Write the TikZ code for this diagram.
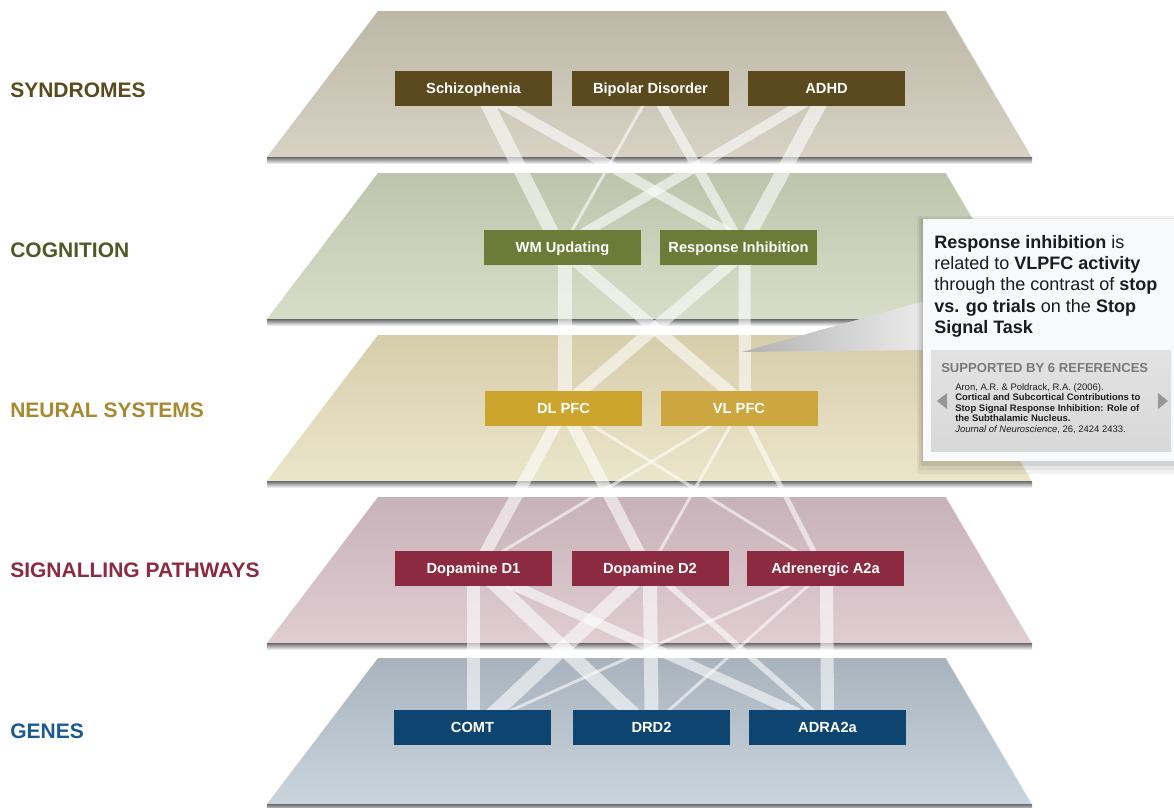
\documentclass[tikz,border=0pt]{standalone}
\usepackage{fontspec}
\setmainfont{Liberation Sans}
\usetikzlibrary{calc}
\pgfdeclarelayer{planes}
\pgfdeclarelayer{bands}
\pgfsetlayers{planes,bands,main}

\begin{document}
\begin{tikzpicture}[x=0.75pt,y=0.75pt,yscale=-1,xscale=1,
  slab edge/.style={draw=none,top color={rgb, 255:red, 105; green, 105; blue, 105 },bottom color=white},
  box/.style={minimum width=117.75pt,minimum height=26.25pt,inner sep=0pt,text height=7.2pt,text depth=0pt,text=white,font=\fontsize{11}{13}\selectfont\bfseries},
  layer label/.style={anchor=base west,inner sep=0pt,font=\fontsize{15.75}{18}\selectfont\bfseries},
  band/.style={draw=white,draw opacity=0.58,shorten >=-6pt,shorten <=-6pt}
]
\useasboundingbox (0,0) rectangle (1174,807);
\clip (0,0) rectangle (1174,807);

\begin{pgfonlayer}{planes}
%Shape: Trapezoid -- syndromes
\shade [top color={rgb, 255:red, 188; green, 183; blue, 166 },bottom color={rgb, 255:red, 215; green, 210; blue, 196 }] (378,11) -- (946,11) -- (1032,157) -- (267,157) -- cycle ;
\shade [slab edge] (267,157) rectangle (1032,164) ;
%Shape: Trapezoid -- cognition
\shade [top color={rgb, 255:red, 190; green, 196; blue, 172 },bottom color={rgb, 255:red, 215; green, 221; blue, 200 }] (378,173) -- (946,173) -- (1032,319) -- (267,319) -- cycle ;
\shade [slab edge] (267,319) rectangle (1032,326) ;
%Shape: Trapezoid -- neural systems
\shade [top color={rgb, 255:red, 214; green, 205; blue, 170 },bottom color={rgb, 255:red, 235; green, 229; blue, 202 }] (378,335) -- (946,335) -- (1032,481) -- (267,481) -- cycle ;
\shade [slab edge] (267,481) rectangle (1032,488) ;
%Shape: Trapezoid -- signalling pathways
\shade [top color={rgb, 255:red, 200; green, 178; blue, 185 },bottom color={rgb, 255:red, 223; green, 205; blue, 210 }] (378,497) -- (946,497) -- (1032,643) -- (267,643) -- cycle ;
\shade [slab edge] (267,643) rectangle (1032,650) ;
%Shape: Trapezoid -- genes
\shade [top color={rgb, 255:red, 168; green, 179; blue, 189 },bottom color={rgb, 255:red, 201; green, 212; blue, 220 }] (378,658) -- (946,658) -- (1032,804) -- (267,804) -- cycle ;
\shade [slab edge] (267,804) rectangle (1032,811) ;
%Straight Lines -- light right rims
\foreach \t in {11,173,335,497,658}
  \draw [white,opacity=0.5,line width=0.8pt] (946,\t) -- (1032,\t+146) ;
\end{pgfonlayer}

% Layer titles
\node [layer label,text={rgb, 255:red, 90; green, 74; blue, 30 }] (lsyn) at (10,97) {SYNDROMES};
\node [layer label,text={rgb, 255:red, 78; green, 90; blue, 38 }] (lcog) at (10,257) {COGNITION};
\node [layer label,text={rgb, 255:red, 168; green, 136; blue, 48 }] (lneu) at (10,417) {NEURAL SYSTEMS};
\node [layer label,text={rgb, 255:red, 140; green, 42; blue, 66 }] (lsig) at (10,577) {SIGNALLING PATHWAYS};
\node [layer label,text={rgb, 255:red, 26; green, 90; blue, 146 }] (lgen) at (10,738) {GENES};

% Boxes
\node [box,fill={rgb, 255:red, 92; green, 74; blue, 31 }] (szp) at (473.5,88.5) {Schizophenia};
\node [box,fill={rgb, 255:red, 92; green, 74; blue, 31 }] (bpd) at (650.5,88.5) {Bipolar Disorder};
\node [box,fill={rgb, 255:red, 92; green, 74; blue, 31 }] (adhd) at (826.5,88.5) {ADHD};
\node [box,fill={rgb, 255:red, 106; green, 124; blue, 56 }] (wmu) at (562.5,247.5) {WM Updating};
\node [box,fill={rgb, 255:red, 106; green, 124; blue, 56 }] (rin) at (738.5,247.5) {Response Inhibition};
\node [box,fill={rgb, 255:red, 205; green, 164; blue, 46 }] (dlp) at (563.5,408.5) {DL PFC};
\node [box,fill={rgb, 255:red, 204; green, 166; blue, 62 }] (vlp) at (739,408.5) {VL PFC};
\node [box,fill={rgb, 255:red, 140; green, 42; blue, 66 }] (dd1) at (473.5,568.5) {Dopamine D1};
\node [box,fill={rgb, 255:red, 140; green, 42; blue, 66 }] (dd2) at (650,568.5) {Dopamine D2};
\node [box,fill={rgb, 255:red, 140; green, 42; blue, 66 }] (ada) at (825.5,568.5) {Adrenergic A2a};
\node [box,fill={rgb, 255:red, 14; green, 68; blue, 112 }] (comt) at (472.5,727.5) {COMT};
\node [box,fill={rgb, 255:red, 14; green, 68; blue, 112 }] (drd) at (651.5,727.5) {DRD2};
\node [box,fill={rgb, 255:red, 14; green, 68; blue, 112 }] (adra) at (827.5,727.5) {ADRA2a};

\begin{pgfonlayer}{bands}
%Straight Lines -- syndromes to cognition
\draw [band,line width=10.5pt] ($(szp.south)+(15,0)$) -- ($(wmu.north)+(-12,0)$) ;
\draw [band,line width=8pt] ($(szp.south)+(32,0)$) -- ($(rin.north)+(-16,0)$) ;
\draw [band,line width=2.2pt] ($(bpd.south)+(-8,0)$) -- ($(wmu.north)+(10,0)$) ;
\draw [band,line width=7.5pt] ($(bpd.south)+(12,0)$) -- ($(rin.north)+(-6,0)$) ;
\draw [band,line width=7.5pt] ($(adhd.south)+(-28,0)$) -- ($(wmu.north)+(27,0)$) ;
\draw [band,line width=10.5pt] ($(adhd.south)+(-8,0)$) -- ($(rin.north)+(13,0)$) ;
%Straight Lines -- cognition to neural systems
\draw [band,line width=10.5pt] ($(wmu.south)+(2,0)$) -- ($(dlp.north)+(1,0)$) ;
\draw [band,line width=9pt] ($(wmu.south)+(18,0)$) -- ($(vlp.north)+(-11,0)$) ;
\draw [band,line width=9pt] ($(rin.south)+(-10,0)$) -- ($(dlp.north)+(18,0)$) ;
\draw [band,line width=9pt] ($(rin.south)+(6,0)$) -- ($(vlp.north)+(6,0)$) ;
%Straight Lines -- neural systems to signalling
\draw [band,line width=9pt] ($(dlp.south)+(-9,0)$) -- ($(dd1.north)+(13,0)$) ;
\draw [band,line width=9pt] ($(dlp.south)+(10,0)$) -- ($(dd2.north)+(-12,0)$) ;
\draw [band,line width=2.2pt] ($(dlp.south)+(30,0)$) -- ($(ada.north)+(-30,0)$) ;
\draw [band,line width=2.2pt] ($(vlp.south)+(-29,0)$) -- ($(dd1.north)+(30,0)$) ;
\draw [band,line width=2.2pt] ($(vlp.south)+(-9,0)$) -- ($(dd2.north)+(10,0)$) ;
\draw [band,line width=3.8pt] ($(vlp.south)+(11,0)$) -- ($(ada.north)+(-12,0)$) ;
%Straight Lines -- signalling to genes
\draw [band,line width=9.8pt] ($(dd1.south)+(0,0)$) -- ($(comt.north)+(1,0)$) ;
\draw [band,line width=11pt] ($(dd1.south)+(24,0)$) -- ($(drd.north)+(-23,0)$) ;
\draw [band,line width=7.5pt] ($(dd1.south)+(42,0)$) -- ($(adra.north)+(-37,0)$) ;
\draw [band,line width=11pt] ($(dd2.south)+(-21,0)$) -- ($(comt.north)+(25,0)$) ;
\draw [band,line width=10.5pt] ($(dd2.south)+(0,0)$) -- ($(drd.north)+(0,0)$) ;
\draw [band,line width=4.5pt] ($(dd2.south)+(20,0)$) -- ($(adra.north)+(-17,0)$) ;
\draw [band,line width=2.2pt] ($(ada.south)+(-38,0)$) -- ($(comt.north)+(40,0)$) ;
\draw [band,line width=2.2pt] ($(ada.south)+(-18,0)$) -- ($(drd.north)+(18,0)$) ;
\draw [band,line width=9.8pt] ($(ada.south)+(1,0)$) -- ($(adra.north)+(0,0)$) ;
\end{pgfonlayer}

%Shape: Callout pointer
\shade [left color={rgb, 255:red, 178; green, 178; blue, 178 },right color={rgb, 255:red, 236; green, 236; blue, 236 }] (742,352) -- (928,300) -- (928,350) -- cycle ;
%Shape: Callout shadow
\fill [black,opacity=0.05] (917,216) rectangle (1180,474) ;
\fill [black,opacity=0.06] (919,218) rectangle (1180,470) ;
\fill [black,opacity=0.08] (921,219) rectangle (1180,466) ;
%Shape: Callout box
\fill [fill={rgb, 255:red, 248; green, 249; blue, 250 }] (923,219) rectangle (1180,461) ;
\shade [top color={rgb, 255:red, 226; green, 226; blue, 226 },bottom color={rgb, 255:red, 216; green, 216; blue, 216 }] (931,350) rectangle (1171,451) ;
%Shape: Arrows
\fill [fill={rgb, 255:red, 150; green, 150; blue, 150 }] (937,401) -- (947,393) -- (947,409) -- cycle ;
\fill [fill={rgb, 255:red, 150; green, 150; blue, 150 }] (1168,401) -- (1158,393) -- (1158,409) -- cycle ;

% Text Node
\node [anchor=north west,inner sep=0pt,align=left,font=\fontsize{13.5}{16}\selectfont,text={rgb, 255:red, 28; green, 28; blue, 28 }] (note) at (934,235) {\textbf{Response inhibition} is\\related to \textbf{VLPFC activity}\\through the contrast of \textbf{stop}\\\textbf{vs. go trials} on the \textbf{Stop}\\\textbf{Signal Task}};
% Text Node
\node [anchor=base west,inner sep=0pt,font=\fontsize{9.8}{12}\selectfont\bfseries,text={rgb, 255:red, 122; green, 122; blue, 122 }] (refhead) at (941,372) {SUPPORTED BY 6 REFERENCES};
% Text Node
\node [anchor=north west,inner sep=0pt,align=left,font=\fontsize{7.1}{7.9}\selectfont,text={rgb, 255:red, 30; green, 30; blue, 30 }] (refbody) at (955,383) {Aron, A.R. \& Poldrack, R.A. (2006).\\\textbf{Cortical and Subcortical Contributions to}\\\textbf{Stop Signal Response Inhibition: Role of}\\\textbf{the Subthalamic Nucleus.}\\\textit{Journal of Neuroscience}, 26, 2424 2433.};
\end{tikzpicture}
\end{document}
